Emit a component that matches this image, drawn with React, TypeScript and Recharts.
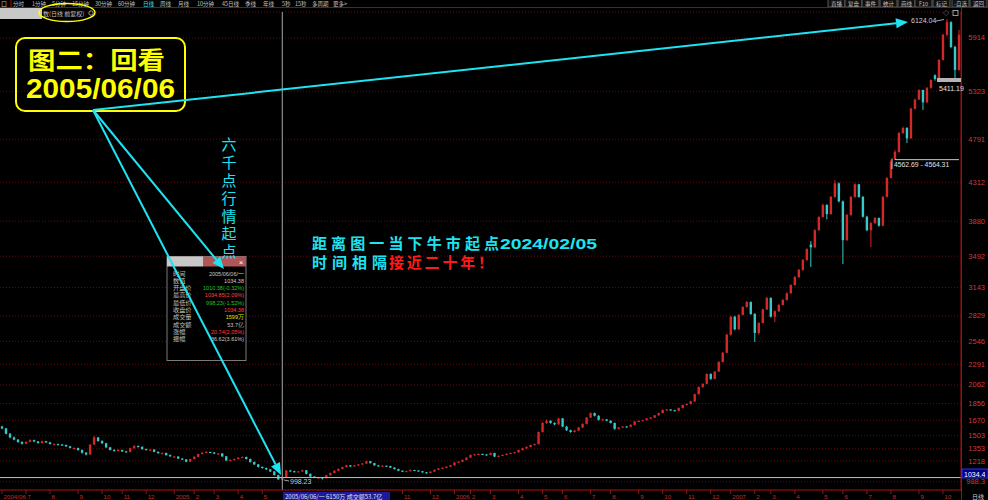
import React from 'react';
import { ComposedChart, Bar, XAxis, YAxis, CartesianGrid, ReferenceLine } from 'recharts';

// ---- OHLC candles [open, high, low, close] ----
const k2004 = [
  [1600,1610,1570,1580],[1580,1585,1515,1520],[1520,1530,1470,1480],[1480,1490,1448,1455],
  [1455,1462,1420,1430],[1430,1436,1400,1410],[1410,1438,1405,1430],[1430,1460,1425,1450],
  [1450,1455,1428,1435],[1435,1440,1410,1418],[1418,1445,1412,1438],[1438,1442,1418,1425],
  [1425,1430,1400,1407],[1400,1415,1396,1405],[1405,1412,1392,1400],[1400,1408,1388,1396],
  [1396,1400,1375,1380],[1380,1386,1358,1363],[1355,1370,1345,1362],[1362,1366,1332,1340],
  [1340,1345,1300,1310],[1310,1318,1280,1290],[1290,1405,1288,1400],[1400,1496,1398,1480],
  [1480,1485,1432,1440],[1440,1448,1408,1415],[1415,1420,1362,1370],[1370,1375,1335,1340],
  [1340,1348,1322,1330],[1330,1350,1326,1340],[1340,1344,1318,1325],[1325,1330,1310,1318],
  [1318,1365,1315,1360],[1360,1392,1355,1385],[1385,1390,1368,1375],[1375,1380,1345,1350],
];
const k2005a = [
  [1350,1356,1336,1342],[1336,1348,1328,1345],[1345,1348,1315,1320],[1320,1325,1300,1305],
  [1300,1312,1290,1308],[1308,1310,1278,1283],[1283,1290,1265,1270],[1265,1276,1255,1268],
  [1268,1270,1240,1245],[1245,1250,1228,1235],[1235,1240,1204,1210],[1210,1245,1208,1240],
  [1240,1270,1236,1265],[1265,1300,1260,1296],[1296,1315,1290,1310],[1310,1328,1305,1318],
  [1318,1322,1305,1312],[1312,1316,1295,1300],[1295,1305,1284,1302],[1302,1304,1264,1270],
  [1270,1274,1218,1225],[1225,1236,1215,1228],[1228,1246,1224,1240],[1240,1260,1236,1255],
  [1255,1268,1250,1263],[1263,1266,1234,1240],[1240,1244,1200,1207],[1207,1212,1175,1180],
  [1180,1185,1146,1152],[1152,1158,1134,1140],[1140,1146,1118,1125],[1125,1130,1096,1102],
  [1102,1106,1056,1062],[1062,1066,1010,1013.64],[1010.38,1034.85,998.23,1034.38],
];
const k2005b = [
  [1034.38,1118,1032,1112],[1112,1120,1098,1105],[1105,1110,1090,1096],[1096,1108,1092,1102],
  [1102,1122,1098,1115],[1115,1118,1070,1075],[1075,1080,1040,1045],[1045,1050,1032,1038],
  [1032,1042,1022,1036],[1036,1038,1012,1028],[1028,1065,1025,1060],[1060,1090,1056,1085],
  [1085,1115,1082,1110],[1110,1135,1105,1130],[1130,1155,1126,1150],[1150,1176,1146,1170],
  [1170,1174,1152,1160],[1160,1172,1156,1168],[1168,1185,1164,1180],[1180,1196,1176,1190],
  [1190,1222,1186,1215],[1215,1218,1190,1195],[1195,1198,1165,1170],[1170,1175,1155,1160],
  [1160,1170,1156,1165],[1165,1168,1155,1162],[1162,1165,1140,1145],[1145,1148,1124,1128],
  [1128,1132,1105,1110],[1110,1114,1095,1100],[1100,1110,1096,1105],[1105,1124,1102,1118],
  [1118,1120,1108,1112],[1112,1115,1100,1105],[1105,1108,1088,1092],[1092,1096,1078,1085],
  [1085,1104,1082,1100],[1100,1125,1097,1120],[1120,1140,1116,1135],[1135,1147,1130,1142],
  [1142,1160,1138,1155],[1155,1175,1150,1170],[1170,1205,1166,1200],[1200,1215,1195,1210],
  [1210,1236,1205,1230],[1230,1260,1226,1255],[1255,1290,1250,1285],[1285,1298,1280,1292],
  [1292,1302,1288,1296],[1296,1300,1285,1290],[1290,1294,1280,1285],[1285,1312,1282,1307],
  [1307,1310,1262,1268],[1268,1280,1264,1275],[1275,1290,1272,1285],[1285,1302,1282,1298],
  [1298,1312,1295,1307],[1307,1320,1302,1315],[1315,1345,1312,1340],[1340,1365,1335,1360],
  [1360,1380,1352,1374],[1374,1400,1370,1396],[1396,1412,1390,1405],
];
const k2006 = [
  [1405,1545,1402,1540],[1540,1650,1535,1640],[1640,1678,1630,1665],[1665,1670,1632,1640],
  [1640,1648,1615,1625],[1625,1698,1620,1690],[1690,1695,1595,1600],[1600,1608,1552,1560],
  [1560,1566,1532,1540],[1540,1560,1535,1555],[1555,1595,1550,1590],[1590,1636,1585,1630],
  [1630,1706,1625,1700],[1700,1757,1695,1750],[1750,1755,1712,1720],[1720,1726,1668,1675],
  [1675,1690,1670,1680],[1680,1684,1660,1665],[1665,1670,1635,1640],[1640,1645,1565,1575],
  [1575,1596,1570,1590],[1590,1605,1585,1600],[1600,1606,1592,1598],[1598,1625,1594,1620],
  [1620,1660,1615,1655],[1655,1668,1650,1662],[1662,1676,1656,1672],[1672,1694,1668,1690],
  [1690,1704,1684,1700],[1700,1728,1696,1725],[1725,1755,1720,1750],[1750,1790,1746,1785],
  [1785,1796,1778,1790],[1790,1794,1776,1782],[1782,1786,1768,1775],[1775,1812,1772,1807],
  [1807,1845,1802,1840],[1840,1856,1834,1850],[1850,1886,1846,1880],[1880,1966,1876,1960],
  [1960,2046,1955,2040],[2040,2080,2030,2075],[2075,2190,2070,2184],[2184,2192,2118,2130],
  [2130,2216,2125,2210],[2210,2325,2205,2318],[2318,2428,2310,2420],[2420,2630,2415,2620],
];
const k2007 = [
  [2620,2830,2610,2820],[2820,2830,2670,2680],[2680,2850,2675,2840],[2840,2935,2835,2928],
  [2928,2995,2920,2983],[2983,2990,2840,2850],[2850,2860,2540,2640],[2640,2760,2620,2750],
  [2750,2910,2745,2900],[2900,3040,2895,3028],[3028,3035,2810,2820],[2820,2890,2760,2880],
  [2880,2960,2875,2950],[2950,3015,2945,3006],[3006,3090,3000,3080],[3080,3180,3075,3172],
  [3172,3270,3165,3260],[3260,3350,3250,3340],[3340,3460,3330,3450],[3450,3580,3440,3570],
  [3620,3660,3372,3590],[3590,3790,3585,3780],[3780,3935,3775,3927],[3927,4075,3920,4060],
  [4060,4070,3900,3960],[3960,4160,3950,4150],[4150,4335,4140,4300],[4300,4310,4090,4100],
  [4100,4110,3404,3670],[3670,3960,3660,3950],[3950,4160,3940,4150],[4150,4300,4140,4290],
  [4290,4295,4140,4150],[4150,4160,3920,3930],[3930,3940,3770,3780],[3780,3870,3594,3860],
  [3860,3925,3850,3916],[3916,3920,3820,3830],[3830,4160,3825,4150],[4150,4370,4145,4360],
  [4360,4562.69,4355,4540],[4564.31,4670,4564.31,4650],[4650,4870,4640,4859],[4859,4930,4850,4915],
  [4915,4925,4748,4800],[4800,5140,4795,5130],[5130,5240,5120,5230],[5230,5345,5225,5337],
  [5337,5340,5115,5200],[5200,5370,5190,5360],[5360,5455,5350,5448],[5500,5510,5440,5460],
  [5460,5680,5455,5670],[5670,5960,5665,5950],[5950,6124.04,5930,6090],[6090,6100,5800,5814],
  [5814,5830,5462,5560],[5560,6005,5550,5950],
];

// ---- axis ticks ----
const yTicks = [988.3,1218,1353,1503,1670,1856,2062,2291,2546,2829,3143,3492,3880,4312,4791,5323,5914];
const xTickIdx = [0,6,12,19,25,30,36,43,48,53,59,65,100,107,113,117,122,129,135,140,147,152,159,165,171,177,182,188,192,198,205,210,216,222,229,235];
const xTickText = ['2004/06','7','8','9','10','11','12','2005','2','3','4','5','11','12','2006','2','3','4','5','6','7','8','9','10','11','12','2007','2','3','4','5','6','7','8','9','10'];

// ---- info window rows ----
const infoLabels = ['时间','数值','开盘价','最高价','最低价','收盘价','成交量','成交额','涨幅','振幅'];
const infoValues = ['2005/06/06/一','1034.38','1010.38(-0.32%)','1034.85(2.09%)','998.23(-1.52%)','1034.38','1599万','53.7亿','20.74(2.05%)','36.62(3.61%)'];
const infoColors = ['#c8c8c8','#c8c8c8','#20c820','#ff4040','#20c820','#ff4040','#e8e800','#c8c8c8','#ff4040','#c8c8c8'];

const toolbarItems = ['分时','1分钟','5分钟','15分钟','30分钟','60分钟','日线','周线','月线','10分钟','45日线','季线','年线','5秒','15秒','多周期','更多>'];
const toolbarX = [13,32,52,72,95,118,143,160,178,197,222,245,263,282,295,312,333];
const buttonItems = ['直播','复盘','事件','统计','画线','F10','标记','-自选','返回'];
const buttonX = [828,845,862,880,898,915,933,952,970];

const all = [...k2004, ...k2005a, ...k2005b, ...k2006, ...k2007];
const data = all.map((r, i) => ({ i, o: r[0], h: r[1], l: r[2], c: r[3], range: [r[2], r[1]] }));
const lowIdx = data.find((d) => d.l === 998.23)!.i;
const gapIdx = data.find((d) => d.l === 4564.31)!.i;
const xLabel = new Map(xTickIdx.map((v, k) => [v, xTickText[k]]));

const RED = '#d42828';
const CYAN = '#38c8c8';
const AX = '#a01010';
const ARROW = '#1ee4f2';

const Candle = (props: any) => {
  const { x, y, width, height, payload } = props;
  if (!payload) return null;
  const { o, h, l, c } = payload;
  const top = Math.min(y, y + height);
  const hh = Math.abs(height);
  const py = (v: number) => top + ((h - v) / (h - l || 1)) * hh;
  const up = c >= o;
  const col = up ? RED : CYAN;
  const cx = x + width / 2;
  const bw = 2.4;
  const b1 = Math.min(py(o), py(c));
  const bh = Math.max(1, Math.abs(py(o) - py(c)));
  return (
    <g>
      <line x1={cx} x2={cx} y1={top} y2={top + hh} stroke={col} strokeWidth={1} />
      <rect x={cx - bw / 2} y={b1} width={bw} height={bh} fill={col} />
    </g>
  );
};

const YTick = (props: any) => {
  const { y, payload } = props;
  const v = payload.value;
  return (
    <text x={985} y={y + 2.5} textAnchor="end" fill="#d03a3a" fontSize={7.5} fontFamily="Liberation Sans">
      {v < 1000 ? v.toFixed(1) : String(v)}
    </text>
  );
};

const XTick = (props: any) => {
  const { x, payload } = props;
  return (
    <g>
      <line x1={x} x2={x} y1={490} y2={494} stroke={AX} />
      <text x={x + 1.5} y={498.5} fill="#b83030" fontSize={6.2} fontFamily="Liberation Sans">
        {xLabel.get(payload.value) || ''}
      </text>
    </g>
  );
};

const Arrow = ({ x1, y1, x2, y2 }: any) => {
  const a = Math.atan2(y2 - y1, x2 - x1);
  const L = 12, W = 5;
  const bx = x2 - L * Math.cos(a), by = y2 - L * Math.sin(a);
  const p = `${x2},${y2} ${bx - W * Math.sin(a)},${by + W * Math.cos(a)} ${bx + W * Math.sin(a)},${by - W * Math.cos(a)}`;
  return (
    <g>
      <line x1={x1} y1={y1} x2={bx} y2={by} stroke={ARROW} strokeWidth={2} />
      <polygon points={p} fill={ARROW} />
    </g>
  );
};

const CJK = '"Noto Sans CJK SC", sans-serif';

export default function App() {
  return (
    <div style={{ position: 'fixed', left: 0, top: 0, width: 988, height: 500, background: '#000', overflow: 'hidden' }}>
      <ComposedChart width={988} height={500} data={data} margin={{ top: 12, right: 0, bottom: 0, left: 0 }} barCategoryGap={0}>
        <CartesianGrid vertical={false} stroke="#6a0808" strokeDasharray="1 2" />
        <XAxis dataKey="i" type="category" height={10} ticks={xTickIdx} interval={0} tick={<XTick />} tickLine={false} axisLine={{ stroke: AX }} />
        <YAxis orientation="right" width={27} type="number" domain={[896.2, 6202.6]} allowDataOverflow ticks={yTicks} interval={0} tick={<YTick />} tickLine={false} axisLine={{ stroke: AX }} />
        <Bar dataKey="range" shape={<Candle />} isAnimationActive={false} />
        <ReferenceLine y={1034.38} stroke="#c0c0c0" strokeWidth={1} />
        <ReferenceLine x={lowIdx} stroke="#a8a8a8" strokeWidth={1} />
        <ReferenceLine segment={[{ x: gapIdx, y: 4563.5 }, { x: data.length - 1, y: 4563.5 }]} stroke="#c8c8c8" />
      </ComposedChart>

      <svg width={988} height={500} style={{ position: 'absolute', left: 0, top: 0, pointerEvents: 'none' }} fontFamily={CJK}>
        {/* toolbar */}
        <rect x={0} y={0} width={988} height={7} fill="#000" />
        <text x={1} y={6} fontSize={6} fill="#c0c0c0">口</text>
        <line x1={11} x2={11} y1={0} y2={7} stroke={AX} />
        {toolbarItems.map((t, k) => (
          <text key={t + k} x={toolbarX[k]} y={5.5} fontSize={5.5} fill={t === '日线' ? '#40e0e0' : '#c0c0c0'}>{t}</text>
        ))}
        {buttonItems.map((t, k) => (
          <g key={t}>
            <rect x={buttonX[k]} y={-2} width={17} height={9} fill="#101010" stroke="#5a5a5a" />
            <text x={buttonX[k] + 8.5} y={5.5} fontSize={5.5} textAnchor="middle" fill="#c0c0c0">{t}</text>
          </g>
        ))}
        <line x1={0} x2={988} y1={7.5} y2={7.5} stroke="#8a1010" />
        <line x1={961.5} x2={961.5} y1={7} y2={500} stroke={AX} />
        <rect x={0} y={8} width={42} height={11} fill="#c8c8c8" />
        <text x={43} y={15.5} fontSize={6} fill="#c0c0c0">数(日线 前复权)</text>
        <circle cx={91} cy={13} r={2.2} fill="none" stroke="#c0c0c0" strokeWidth={0.8} />
        <ellipse cx={67} cy={12.5} rx={28} ry={9} fill="none" stroke="#ffff00" strokeWidth={1.5} />
        <text x={946} y={15} fontSize={6} fill="#c0c0c0" textAnchor="middle">◇</text>
        <rect x={953} y={10.5} width={5} height={5} fill="none" stroke="#c0c0c0" strokeWidth={0.8} />

        {/* info window */}
        <rect x={167} y={256.5} width={79} height={104} fill="#000" stroke="#7a7a7a" />
        <rect x={167} y={256.5} width={36} height={10} fill="#c8c8c8" />
        <rect x={203} y={256.5} width={43} height={10} fill="#b05656" />
        <text x={241} y={264.5} fontSize={8} fill="#fff" textAnchor="middle" fontFamily="Liberation Sans">×</text>
        {infoLabels.map((t, k) => (
          <g key={t}>
            <text x={173} y={275.5 + k * 7.3} fontSize={6.2} fill="#c0c0c0">{t}</text>
            <text x={244} y={275.5 + k * 7.3} fontSize={5.5} fill={infoColors[k]} textAnchor="end" fontFamily="Liberation Sans">{infoValues[k]}</text>
          </g>
        ))}

        {/* labels on chart */}
        <text x={911} y={23} fontSize={7} fill="#d0d0d0" fontFamily="Liberation Sans">6124.04</text>
        <line x1={936} y1={21} x2={944} y2={19.5} stroke="#d0d0d0" strokeWidth={0.8} />
        <rect x={937} y={78} width={24} height={4} fill="#b4b4b4" />
        <text x={939} y={91} fontSize={7} fill="#e0e0e0" fontFamily="Liberation Sans">5411.19</text>
        <line x1={892} y1={158.5} x2={892} y2={169} stroke="#c8c8c8" />
        <text x={894} y={167} fontSize={6.8} fill="#e0e0e0" fontFamily="Liberation Sans">4562.69 - 4564.31</text>
        <line x1={284} y1={480} x2={289} y2={481} stroke="#c0c0c0" strokeWidth={0.8} />
        <text x={290} y={484} fontSize={7} fill="#c8c8c8" fontFamily="Liberation Sans">998.23</text>
        <rect x={962} y={469} width={26} height={9} fill="#000090" stroke="#3a3aff" strokeWidth={0.8} />
        <text x={964} y={476.5} fontSize={7} fill="#ffffff" fontFamily="Liberation Sans">1034.4</text>
        <rect x={283} y={492} width={107} height={9} fill="#1a1aa0" />
        <text x={285} y={499} fontSize={6} fill="#e0e0e0">2005/06/06/一  6150万 成交额53.7亿</text>
        <text x={972} y={499} fontSize={6} fill="#d0d0d0">日线</text>

        {/* annotation box */}
        <rect x={16} y={38} width={169} height={73} rx={9} fill="none" stroke="#ffff00" strokeWidth={2} />
        <text x={28} y={69} fontSize={24} fontWeight="bold" fill="#ffff00" textLength={137} lengthAdjust="spacingAndGlyphs">图二：回看</text>
        <text x={26} y={98} fontSize={28} fontWeight="bold" fill="#ffff00" textLength={149} lengthAdjust="spacingAndGlyphs" fontFamily="Liberation Sans">2005/06/06</text>

        {/* arrows */}
        <Arrow x1={93} y1={110} x2={908} y2={22} />
        <Arrow x1={93} y1={110} x2={224} y2={269} />
        <Arrow x1={93} y1={110} x2={281} y2={475} />

        {/* vertical caption */}
        <text x={229} y={137} fontSize={15} fill="#1ee4f2" style={{ writingMode: 'vertical-rl' }} textLength={122} lengthAdjust="spacing">六千点行情起点</text>

        {/* right-side caption */}
        <text x={312} y={248.5} fontSize={15} fontWeight="bold" fill="#1ee4f2" textLength={187} lengthAdjust="spacing">距离图一当下牛市起点</text>
        <text x={500} y={248.5} fontSize={15} fontWeight="bold" fill="#1ee4f2" textLength={97} lengthAdjust="spacingAndGlyphs" fontFamily="Liberation Sans">2024/02/05</text>
        <text x={312} y={268} fontSize={15} fontWeight="bold" fill="#1ee4f2" textLength={75} lengthAdjust="spacing">时间相隔</text>
        <text x={389} y={268} fontSize={15} fontWeight="bold" fill="#ff1a1a" textLength={104} lengthAdjust="spacing">接近二十年！</text>
      </svg>
    </div>
  );
}
